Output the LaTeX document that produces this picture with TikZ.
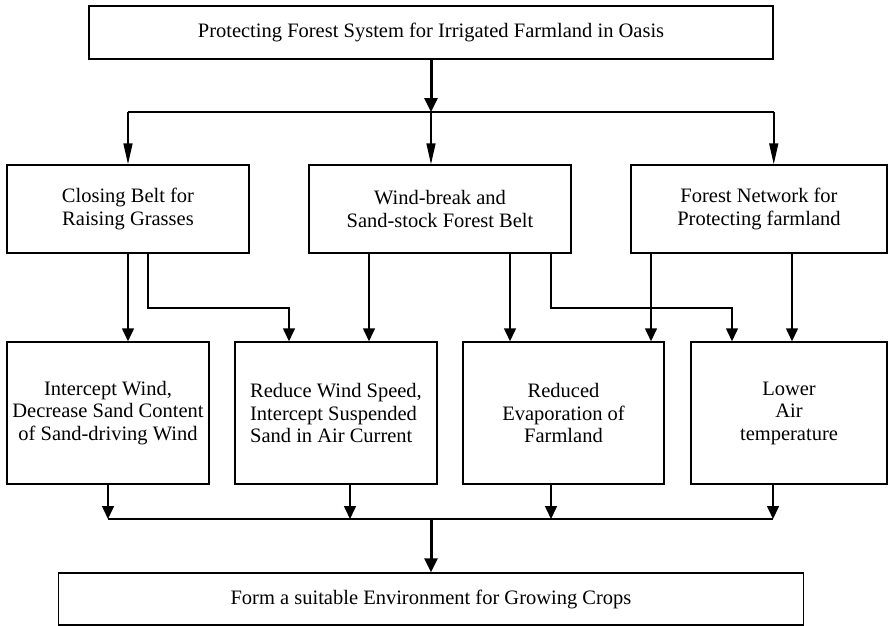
\documentclass[tikz,border=0pt]{standalone}
\usepackage{fontspec}
\setmainfont{Liberation Serif}
\usetikzlibrary{arrows.meta,calc}
\begin{document}
\begin{tikzpicture}[x=1pt,y=-1pt,
 box/.style={draw,line width=1.5pt,inner sep=0pt,font=\fontsize{20.5}{22.5}\selectfont,align=center},
 conn/.style={line width=1.6pt},
 arrlong/.style={conn,-{Triangle[length=21pt,width=9pt]}},
 arrshort/.style={conn,-{Triangle[length=13pt,width=12pt]}},
 arrthick/.style={line width=3pt,-{Triangle[length=14pt,width=13pt]}}
]
\useasboundingbox (0,0) rectangle (889,626);
\node[box,minimum width=684pt,minimum height=53pt] (top) at (431,32.5) {Protecting Forest System for Irrigated Farmland in Oasis};
\node[box,minimum width=242pt,minimum height=88pt] (b1) at (128,209) {Closing Belt for\\Raising Grasses};
\node[box,minimum width=262pt,minimum height=88pt] (b2) at (440,209) {Wind-break and\\Sand-stock Forest Belt};
\node[box,minimum width=256pt,minimum height=88pt] (b3) at (759,209) {Forest Network for\\Protecting farmland};
\node[box,minimum width=202pt,minimum height=142pt] (la) at (108,413) {Intercept Wind,\\Decrease Sand Content\\of Sand-driving Wind};
\node[box,minimum width=202pt,minimum height=142pt,align=left] (lb) at (336,413) {Reduce Wind Speed,\\Intercept Suspended\\Sand in Air Current};
\node[box,minimum width=201pt,minimum height=142pt] (lc) at (563.5,413) {Reduced\\Evaporation of\\Farmland};
\node[box,minimum width=196pt,minimum height=142pt] (ld) at (789,413) {Lower\\Air\\temperature};
\node[box,minimum width=745pt,minimum height=52pt] (bot) at (431,599) {Form a suitable Environment for Growing Crops};
% top split
\coordinate (j1) at (431,112);
\draw[arrthick] (top.south) -- (j1);
\draw[conn] (b1.north |- j1) -- (top.south east |- j1);
\draw[arrlong] (b1.north |- j1) -- (b1.north);
\draw[arrlong] (j1) -- (j1 |- b2.north);
\draw[arrlong] (top.south east |- j1) -- (top.south east |- b3.north);
% middle to lower
\draw[arrshort] (b1.south) -- (b1.south |- la.north);
\draw[arrshort] ([xshift=20pt]b1.south) -- ++(0,54) -| ([xshift=-47pt]lb.north);
\draw[arrshort] ([xshift=-71pt]b2.south) -- ([xshift=-71pt]b2.south |- lb.north);
\draw[arrshort] ([xshift=70pt]b2.south) -- ([xshift=70pt]b2.south |- lc.north);
\draw[arrshort] ([xshift=111pt]b2.south) -- ++(0,54) -| ([xshift=-57pt]ld.north);
\draw[arrshort] ([xshift=-108pt]b3.south) -- ([xshift=-108pt]b3.south |- lc.north);
\draw[arrshort] ([xshift=33pt]b3.south) -- ([xshift=33pt]b3.south |- ld.north);
% lower to collector
\coordinate (j2) at (431,519);
\draw[arrshort] (la.south) -- (la.south |- j2);
\draw[arrshort] ([xshift=14pt]lb.south) -- ([xshift=14pt]lb.south |- j2);
\draw[arrshort] ([xshift=-12.5pt]lc.south) -- ([xshift=-12.5pt]lc.south |- j2);
\draw[arrshort] ([xshift=-16pt]ld.south) -- ([xshift=-16pt]ld.south |- j2);
\draw[conn] (la.south |- j2) -- ([xshift=-16pt]ld.south |- j2);
\draw[arrthick] (j2) -- (bot.north);
\end{tikzpicture}
\end{document}
